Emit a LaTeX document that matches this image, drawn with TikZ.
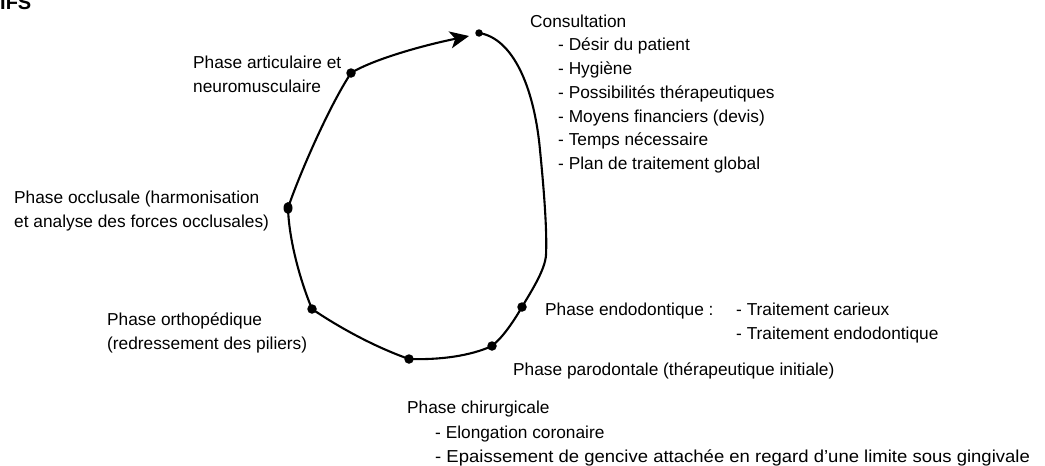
\documentclass[tikz,border=0pt]{standalone}
\usepackage{fontspec}
\setmainfont{Liberation Sans}
\usetikzlibrary{arrows.meta,shapes.geometric}
\tikzset{
  curve/.style={line width=2.1pt, draw=black},
  dot/.style={circle, fill=black, inner sep=0pt, minimum size=9.5pt},
  lbl/.style={anchor=base west, inner sep=0pt, font=\fontsize{17.3}{24}\selectfont},
}
\begin{document}
\begin{tikzpicture}[x=1pt,y=-1pt]
\useasboundingbox (0,0) rectangle (1045,466);
\clip (0,0) rectangle (1045,466);
\node[anchor=base west, inner sep=0pt, font=\fontsize{20}{24}\selectfont\bfseries] (title) at (0,9) {IFS};

% dots
\node[dot, minimum size=7.5pt] (dA) at (479,33) {};
\node[dot] (dE) at (522,307) {};
\node[dot] (dP) at (492,346) {};
\node[dot] (dC) at (409,359) {};
\node[dot] (dO) at (312,309) {};
\node[dot, ellipse, minimum width=9pt, minimum height=12pt] (dD) at (288,208) {};
\node[dot] (dR) at (351,73) {};
\coordinate (tip) at (469,36);

% cycle
\draw[curve] (dA.center) .. controls (512,38) and (534,85) .. (540,150)
  .. controls (545,200) and (547,235) .. (546,255)
  .. controls (545,270) and (532,290) .. (dE.center)
  .. controls (512,324) and (502,338) .. (dP.center)
  .. controls (470,356) and (440,360) .. (dC.center)
  .. controls (375,347) and (340,328) .. (dO.center)
  .. controls (300,280) and (289,240) .. (dD.center)
  .. controls (298,178) and (328,108) .. (dR.center);
\draw[curve, -{Stealth[length=19pt,width=17pt,inset=5pt]}] (dR.center) .. controls (372,60) and (420,46) .. (tip);

% labels
\node[lbl] (c0) at (530,27) {Consultation};
\node[lbl] (c1) at (558,50.75) {- Désir du patient};
\node[lbl] (c2) at (558,74.5) {- Hygiène};
\node[lbl] (c3) at (558,98.25) {- Possibilités thérapeutiques};
\node[lbl] (c4) at (558,122) {- Moyens financiers (devis)};
\node[lbl] (c5) at (558,145.75) {- Temps nécessaire};
\node[lbl] (c6) at (558,169.5) {- Plan de traitement global};

\node[lbl] (a1) at (193,68) {Phase articulaire et};
\node[lbl] (a2) at (193,92) {neuromusculaire};

\node[lbl] (o1) at (14,203) {Phase occlusale (harmonisation};
\node[lbl] (o2) at (14,227) {et analyse des forces occlusales)};

\node[lbl] (p1) at (107,325) {Phase orthopédique};
\node[lbl] (p2) at (107,349) {(redressement des piliers)};

\node[lbl] (e0) at (545,315.5) {Phase endodontique :};
\node[lbl] (e1) at (736,315.5) {- Traitement carieux};
\node[lbl] (e2) at (736,339) {- Traitement endodontique};

\node[lbl] (pa) at (513,375.5) {Phase parodontale (thérapeutique initiale)};

\node[lbl] (h0) at (407,413.5) {Phase chirurgicale};
\node[lbl] (h1) at (435,438) {- Elongation coronaire};
\node[lbl] (h2) at (435,462) {\scalebox{1.07}[1]{- Epaissement de gencive attachée en regard d’une limite sous gingivale}};
\end{tikzpicture}
\end{document}
